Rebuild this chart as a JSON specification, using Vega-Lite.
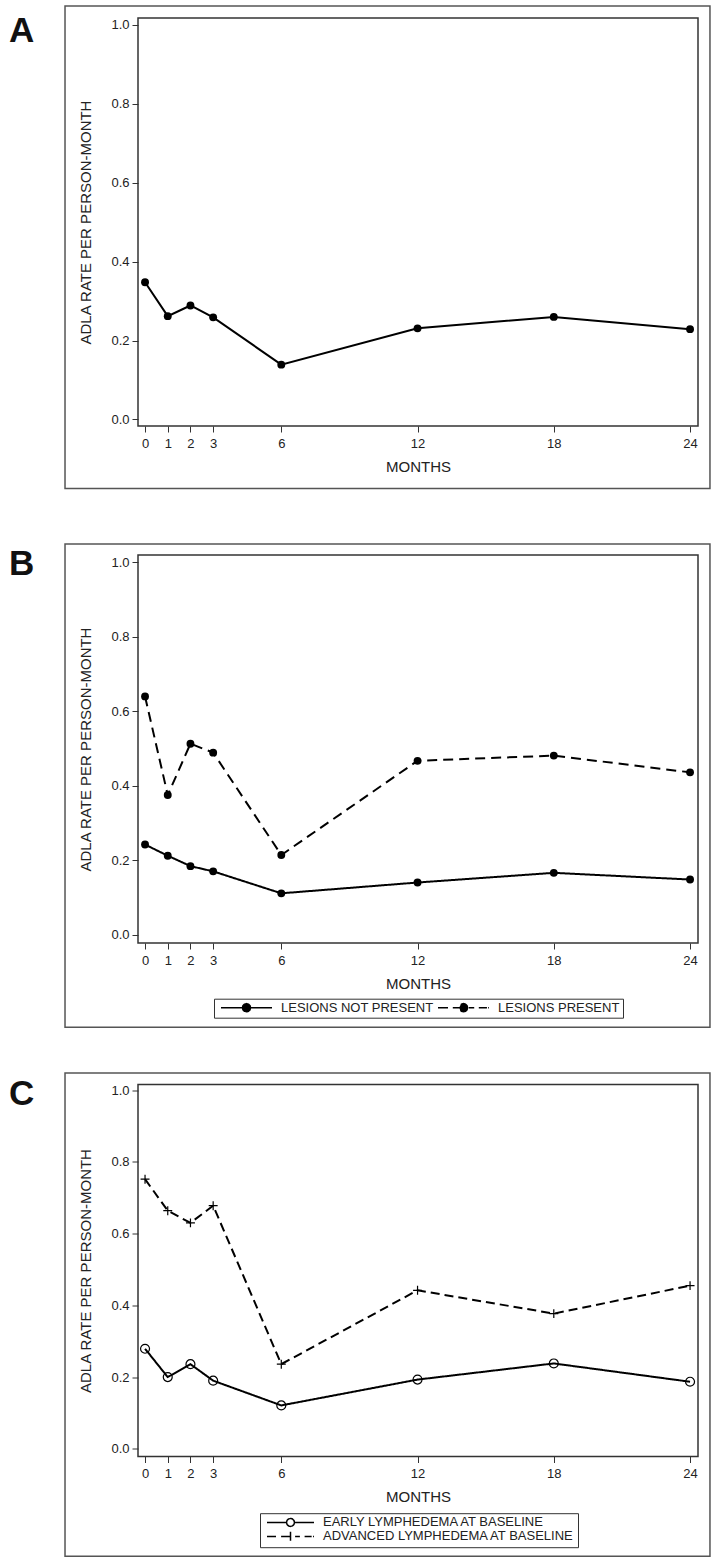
{
  "$schema": "https://vega.github.io/schema/vega-lite/v6.json",
  "padding": {"left": 8, "top": 4, "right": 4, "bottom": 4},
  "datasets": {
    "A": [
      {"month": 0, "rate": 0.348}, {"month": 1, "rate": 0.262}, {"month": 2, "rate": 0.289}, {"month": 3, "rate": 0.259},
      {"month": 6, "rate": 0.139}, {"month": 12, "rate": 0.231}, {"month": 18, "rate": 0.260}, {"month": 24, "rate": 0.229}
    ],
    "B": [
      {"month": 0, "rate": 0.242, "group": "LESIONS NOT PRESENT"}, {"month": 1, "rate": 0.212, "group": "LESIONS NOT PRESENT"},
      {"month": 2, "rate": 0.184, "group": "LESIONS NOT PRESENT"}, {"month": 3, "rate": 0.170, "group": "LESIONS NOT PRESENT"},
      {"month": 6, "rate": 0.111, "group": "LESIONS NOT PRESENT"}, {"month": 12, "rate": 0.140, "group": "LESIONS NOT PRESENT"},
      {"month": 18, "rate": 0.166, "group": "LESIONS NOT PRESENT"}, {"month": 24, "rate": 0.148, "group": "LESIONS NOT PRESENT"},
      {"month": 0, "rate": 0.640, "group": "LESIONS PRESENT"}, {"month": 1, "rate": 0.375, "group": "LESIONS PRESENT"},
      {"month": 2, "rate": 0.513, "group": "LESIONS PRESENT"}, {"month": 3, "rate": 0.489, "group": "LESIONS PRESENT"},
      {"month": 6, "rate": 0.214, "group": "LESIONS PRESENT"}, {"month": 12, "rate": 0.467, "group": "LESIONS PRESENT"},
      {"month": 18, "rate": 0.481, "group": "LESIONS PRESENT"}, {"month": 24, "rate": 0.436, "group": "LESIONS PRESENT"}
    ],
    "C": [
      {"month": 0, "rate": 0.279, "group": "EARLY LYMPHEDEMA AT BASELINE"}, {"month": 1, "rate": 0.200, "group": "EARLY LYMPHEDEMA AT BASELINE"},
      {"month": 2, "rate": 0.236, "group": "EARLY LYMPHEDEMA AT BASELINE"}, {"month": 3, "rate": 0.190, "group": "EARLY LYMPHEDEMA AT BASELINE"},
      {"month": 6, "rate": 0.121, "group": "EARLY LYMPHEDEMA AT BASELINE"}, {"month": 12, "rate": 0.193, "group": "EARLY LYMPHEDEMA AT BASELINE"},
      {"month": 18, "rate": 0.238, "group": "EARLY LYMPHEDEMA AT BASELINE"}, {"month": 24, "rate": 0.187, "group": "EARLY LYMPHEDEMA AT BASELINE"},
      {"month": 0, "rate": 0.752, "group": "ADVANCED LYMPHEDEMA AT BASELINE"}, {"month": 1, "rate": 0.664, "group": "ADVANCED LYMPHEDEMA AT BASELINE"},
      {"month": 2, "rate": 0.630, "group": "ADVANCED LYMPHEDEMA AT BASELINE"}, {"month": 3, "rate": 0.678, "group": "ADVANCED LYMPHEDEMA AT BASELINE"},
      {"month": 6, "rate": 0.236, "group": "ADVANCED LYMPHEDEMA AT BASELINE"}, {"month": 12, "rate": 0.442, "group": "ADVANCED LYMPHEDEMA AT BASELINE"},
      {"month": 18, "rate": 0.377, "group": "ADVANCED LYMPHEDEMA AT BASELINE"}, {"month": 24, "rate": 0.455, "group": "ADVANCED LYMPHEDEMA AT BASELINE"}
    ]
  },
  "spacing": 52,
  "resolve": {"scale": {"strokeDash": "independent", "shape": "independent"}, "legend": {"strokeDash": "independent", "shape": "independent"}},
  "vconcat": [
    {
      "width": 560,
      "height": 408,
      "layer": [
        {
          "data": {"values": [{}]},
          "mark": {"type": "rect", "filled": false, "stroke": "#555", "strokeWidth": 1.5},
          "encoding": {
            "x": {"datum": -3.524, "type": "quantitative", "scale": {"domain": [-0.31, 24.35], "nice": false, "zero": false}, "axis": {"title": "MONTHS", "values": [0, 1, 2, 3, 6, 12, 18, 24], "format": "d"}},
            "x2": {"datum": 24.877},
            "y": {"datum": 1.048, "type": "quantitative", "scale": {"domain": [-0.0165, 1.0177], "nice": false, "zero": false}, "axis": {"title": "ADLA RATE PER PERSON-MONTH", "values": [0, 0.2, 0.4, 0.6, 0.8, 1], "format": ".1f"}},
            "y2": {"datum": -0.1747}
          }
        },
        {
          "data": {"values": [{}]},
          "mark": {"type": "text", "text": "A", "fontSize": 35, "fontWeight": "bold", "align": "left", "baseline": "alphabetic", "color": "#111"},
          "encoding": {
            "x": {"datum": -5.99, "type": "quantitative", "scale": {"domain": [-0.31, 24.35], "nice": false, "zero": false}, "axis": {"title": "MONTHS", "values": [0, 1, 2, 3, 6, 12, 18, 24], "format": "d"}},
            "y": {"datum": 0.957, "type": "quantitative", "scale": {"domain": [-0.0165, 1.0177], "nice": false, "zero": false}, "axis": {"title": "ADLA RATE PER PERSON-MONTH", "values": [0, 0.2, 0.4, 0.6, 0.8, 1], "format": ".1f"}}
          }
        },
        {
          "data": {"name": "A"},
          "mark": {"type": "line", "color": "#000", "strokeWidth": 2},
          "encoding": {
            "x": {"field": "month", "type": "quantitative", "scale": {"domain": [-0.31, 24.35], "nice": false, "zero": false}, "axis": {"title": "MONTHS", "values": [0, 1, 2, 3, 6, 12, 18, 24], "format": "d"}},
            "y": {"field": "rate", "type": "quantitative", "scale": {"domain": [-0.0165, 1.0177], "nice": false, "zero": false}, "axis": {"title": "ADLA RATE PER PERSON-MONTH", "values": [0, 0.2, 0.4, 0.6, 0.8, 1], "format": ".1f"}}
          }
        },
        {
          "data": {"name": "A"},
          "mark": {"type": "point", "filled": true, "color": "#000", "size": 62, "opacity": 1},
          "encoding": {
            "x": {"field": "month", "type": "quantitative", "scale": {"domain": [-0.31, 24.35], "nice": false, "zero": false}, "axis": {"title": "MONTHS", "values": [0, 1, 2, 3, 6, 12, 18, 24], "format": "d"}},
            "y": {"field": "rate", "type": "quantitative", "scale": {"domain": [-0.0165, 1.0177], "nice": false, "zero": false}, "axis": {"title": "ADLA RATE PER PERSON-MONTH", "values": [0, 0.2, 0.4, 0.6, 0.8, 1], "format": ".1f"}}
          }
        }
      ]
    },
    {
      "spacing": 41.5,
      "resolve": {"scale": {"strokeDash": "independent", "shape": "independent"}, "legend": {"strokeDash": "independent", "shape": "independent"}},
      "vconcat": [
        {
          "width": 560,
          "height": 388,
          "layer": [
            {
              "data": {"values": [{}]},
              "mark": {"type": "rect", "filled": false, "stroke": "#555", "strokeWidth": 1.5},
              "encoding": {
                "x": {"datum": -3.524, "type": "quantitative", "scale": {"domain": [-0.31, 24.35], "nice": false, "zero": false}, "axis": {"title": "MONTHS", "values": [0, 1, 2, 3, 6, 12, 18, 24], "format": "d"}},
                "x2": {"datum": 24.877},
                "y": {"datum": 1.0496, "type": "quantitative", "scale": {"domain": [-0.0225, 1.02], "nice": false, "zero": false}, "axis": {"title": "ADLA RATE PER PERSON-MONTH", "values": [0, 0.2, 0.4, 0.6, 0.8, 1], "format": ".1f"}},
                "y2": {"datum": -0.2492}
              }
            },
            {
              "data": {"values": [{}]},
              "mark": {"type": "text", "text": "B", "fontSize": 35, "fontWeight": "bold", "align": "left", "baseline": "alphabetic", "color": "#111"},
              "encoding": {
                "x": {"datum": -5.99, "type": "quantitative", "scale": {"domain": [-0.31, 24.35], "nice": false, "zero": false}, "axis": {"title": "MONTHS", "values": [0, 1, 2, 3, 6, 12, 18, 24], "format": "d"}},
                "y": {"datum": 0.967, "type": "quantitative", "scale": {"domain": [-0.0225, 1.02], "nice": false, "zero": false}, "axis": {"title": "ADLA RATE PER PERSON-MONTH", "values": [0, 0.2, 0.4, 0.6, 0.8, 1], "format": ".1f"}}
              }
            },
            {
              "data": {"name": "B"},
              "mark": {"type": "line", "color": "#000", "strokeWidth": 2},
              "encoding": {
                "x": {"field": "month", "type": "quantitative", "scale": {"domain": [-0.31, 24.35], "nice": false, "zero": false}, "axis": {"title": "MONTHS", "values": [0, 1, 2, 3, 6, 12, 18, 24], "format": "d"}},
                "y": {"field": "rate", "type": "quantitative", "scale": {"domain": [-0.0225, 1.02], "nice": false, "zero": false}, "axis": {"title": "ADLA RATE PER PERSON-MONTH", "values": [0, 0.2, 0.4, 0.6, 0.8, 1], "format": ".1f"}},
                "strokeDash": {
                  "field": "group", "type": "nominal",
                  "scale": {"domain": ["LESIONS NOT PRESENT", "LESIONS PRESENT"], "range": [[1, 0], [10, 6]]},
                  "legend": {
                    "title": null, "orient": "none", "legendX": 76, "legendY": 443.7, "direction": "horizontal",
                    "strokeColor": "#333", "padding": 3, "symbolOffset": 3, "labelOffset": 8, "columnPadding": 0,
                    "clipHeight": 12, "symbolSize": 2601, "labelFontSize": 13, "labelColor": "#222", "labelLimit": 400,
                    "symbolStrokeWidth": 1.5, "symbolFillColor": "#000", "symbolStrokeColor": "#000",
                    "symbolType": "M-1,0H1",
                    "encode": {
                      "symbols": {
                        "update": {
                          "shape": {"signal": "datum.value === 'LESIONS PRESENT' ? 'M-1,0H-0.6M-0.42,0H0.42M0.6,0H0.92M0.97,0H1M0.16,0L0.139,0.08L0.08,0.139L0,0.16L-0.08,0.139L-0.139,0.08L-0.16,0L-0.139,-0.08L-0.08,-0.139L0,-0.16L0.08,-0.139L0.139,-0.08ZM0.09,0L0,0.09L-0.09,0L0,-0.09ZM0.04,0H-0.04' : 'M-1,0H1M0.16,0L0.139,0.08L0.08,0.139L0,0.16L-0.08,0.139L-0.139,0.08L-0.16,0L-0.139,-0.08L-0.08,-0.139L0,-0.16L0.08,-0.139L0.139,-0.08ZM0.09,0L0,0.09L-0.09,0L0,-0.09ZM0.04,0H-0.04'"},
                          "fill": {"value": "#000"},
                          "stroke": {"value": "#000"},
                          "strokeDash": {"value": [1, 0]},
                          "strokeWidth": {"value": 1.5}
                        }
                      }
                    }
                  }
                }
              }
            },
            {
              "data": {"name": "B"},
              "mark": {"type": "point", "filled": true, "color": "#000", "size": 62, "opacity": 1},
              "encoding": {
                "x": {"field": "month", "type": "quantitative", "scale": {"domain": [-0.31, 24.35], "nice": false, "zero": false}, "axis": {"title": "MONTHS", "values": [0, 1, 2, 3, 6, 12, 18, 24], "format": "d"}},
                "y": {"field": "rate", "type": "quantitative", "scale": {"domain": [-0.0225, 1.02], "nice": false, "zero": false}, "axis": {"title": "ADLA RATE PER PERSON-MONTH", "values": [0, 0.2, 0.4, 0.6, 0.8, 1], "format": ".1f"}},
                "detail": {"field": "group", "type": "nominal"}
              }
            }
          ]
        },
        {
          "width": 560,
          "height": 372,
          "layer": [
            {
              "data": {"values": [{}]},
              "mark": {"type": "rect", "filled": false, "stroke": "#555", "strokeWidth": 1.5},
              "encoding": {
                "x": {"datum": -3.524, "type": "quantitative", "scale": {"domain": [-0.31, 24.35], "nice": false, "zero": false}, "axis": {"title": "MONTHS", "values": [0, 1, 2, 3, 6, 12, 18, 24], "format": "d"}},
                "x2": {"datum": 24.877},
                "y": {"datum": 1.0484, "type": "quantitative", "scale": {"domain": [-0.0215, 1.016], "nice": false, "zero": false}, "axis": {"title": "ADLA RATE PER PERSON-MONTH", "values": [0, 0.2, 0.4, 0.6, 0.8, 1], "format": ".1f"}},
                "y2": {"datum": -0.2996}
              }
            },
            {
              "data": {"values": [{}]},
              "mark": {"type": "text", "text": "C", "fontSize": 35, "fontWeight": "bold", "align": "left", "baseline": "alphabetic", "color": "#111"},
              "encoding": {
                "x": {"datum": -5.99, "type": "quantitative", "scale": {"domain": [-0.31, 24.35], "nice": false, "zero": false}, "axis": {"title": "MONTHS", "values": [0, 1, 2, 3, 6, 12, 18, 24], "format": "d"}},
                "y": {"datum": 0.958, "type": "quantitative", "scale": {"domain": [-0.0215, 1.016], "nice": false, "zero": false}, "axis": {"title": "ADLA RATE PER PERSON-MONTH", "values": [0, 0.2, 0.4, 0.6, 0.8, 1], "format": ".1f"}}
              }
            },
            {
              "data": {"name": "C"},
              "mark": {"type": "line", "color": "#000", "strokeWidth": 2},
              "encoding": {
                "x": {"field": "month", "type": "quantitative", "scale": {"domain": [-0.31, 24.35], "nice": false, "zero": false}, "axis": {"title": "MONTHS", "values": [0, 1, 2, 3, 6, 12, 18, 24], "format": "d"}},
                "y": {"field": "rate", "type": "quantitative", "scale": {"domain": [-0.0215, 1.016], "nice": false, "zero": false}, "axis": {"title": "ADLA RATE PER PERSON-MONTH", "values": [0, 0.2, 0.4, 0.6, 0.8, 1], "format": ".1f"}},
                "strokeDash": {
                  "field": "group", "type": "nominal",
                  "scale": {"domain": ["EARLY LYMPHEDEMA AT BASELINE", "ADVANCED LYMPHEDEMA AT BASELINE"], "range": [[1, 0], [9, 5]]},
                  "legend": {
                    "title": null, "orient": "none", "legendX": 122, "legendY": 428.7, "direction": "vertical",
                    "strokeColor": "#333", "padding": 3, "symbolOffset": 3, "labelOffset": 8, "rowPadding": 0,
                    "clipHeight": 12.5, "symbolSize": 2209, "labelFontSize": 13, "labelColor": "#222", "labelLimit": 400,
                    "symbolStrokeWidth": 1.5, "symbolFillColor": "transparent", "symbolStrokeColor": "#000",
                    "symbolType": "M-1,0H1",
                    "encode": {
                      "symbols": {
                        "update": {
                          "shape": {"signal": "datum.value === 'ADVANCED LYMPHEDEMA AT BASELINE' ? 'M-1,0H-0.6M-0.4,0H0.4M0.6,0H0.9M0.96,0H1M0,-0.2V0.2' : 'M-1,0H-0.17M0.17,0H1M0.17,0L0.147,0.085L0.085,0.147L0,0.17L-0.085,0.147L-0.147,0.085L-0.17,0L-0.147,-0.085L-0.085,-0.147L0,-0.17L0.085,-0.147L0.147,-0.085Z'"},
                          "fill": {"value": "transparent"},
                          "stroke": {"value": "#000"},
                          "strokeDash": {"value": [1, 0]},
                          "strokeWidth": {"value": 1.5}
                        }
                      }
                    }
                  }
                }
              }
            },
            {
              "data": {"name": "C"},
              "transform": [{"filter": "datum.group === 'EARLY LYMPHEDEMA AT BASELINE'"}],
              "mark": {"type": "point", "shape": "circle", "filled": false, "color": "#000", "size": 80, "strokeWidth": 1.2, "opacity": 1},
              "encoding": {
                "x": {"field": "month", "type": "quantitative", "scale": {"domain": [-0.31, 24.35], "nice": false, "zero": false}, "axis": {"title": "MONTHS", "values": [0, 1, 2, 3, 6, 12, 18, 24], "format": "d"}},
                "y": {"field": "rate", "type": "quantitative", "scale": {"domain": [-0.0215, 1.016], "nice": false, "zero": false}, "axis": {"title": "ADLA RATE PER PERSON-MONTH", "values": [0, 0.2, 0.4, 0.6, 0.8, 1], "format": ".1f"}}
              }
            },
            {
              "data": {"name": "C"},
              "transform": [{"filter": "datum.group === 'ADVANCED LYMPHEDEMA AT BASELINE'"}],
              "mark": {"type": "point", "shape": "M-1,0H1M0,-1V1", "filled": false, "color": "#000", "size": 80, "strokeWidth": 1.2, "opacity": 1},
              "encoding": {
                "x": {"field": "month", "type": "quantitative", "scale": {"domain": [-0.31, 24.35], "nice": false, "zero": false}, "axis": {"title": "MONTHS", "values": [0, 1, 2, 3, 6, 12, 18, 24], "format": "d"}},
                "y": {"field": "rate", "type": "quantitative", "scale": {"domain": [-0.0215, 1.016], "nice": false, "zero": false}, "axis": {"title": "ADLA RATE PER PERSON-MONTH", "values": [0, 0.2, 0.4, 0.6, 0.8, 1], "format": ".1f"}}
              }
            }
          ]
        }
      ]
    }
  ],
  "config": {
    "font": "Liberation Sans",
    "view": {"stroke": "#333", "strokeWidth": 1.5},
    "axis": {
      "domain": false, "grid": false, "tickColor": "#333", "tickSize": 6, "tickWidth": 1,
      "labelFontSize": 13, "labelColor": "#222", "titleFontSize": 15, "titleFontWeight": "normal", "titleColor": "#222",
      "labelPadding": 3, "labelFlush": false, "labelOverlap": false
    },
    "axisX": {"labelPadding": 5, "titlePadding": 9},
    "axisY": {"titlePadding": 17}
  }
}
